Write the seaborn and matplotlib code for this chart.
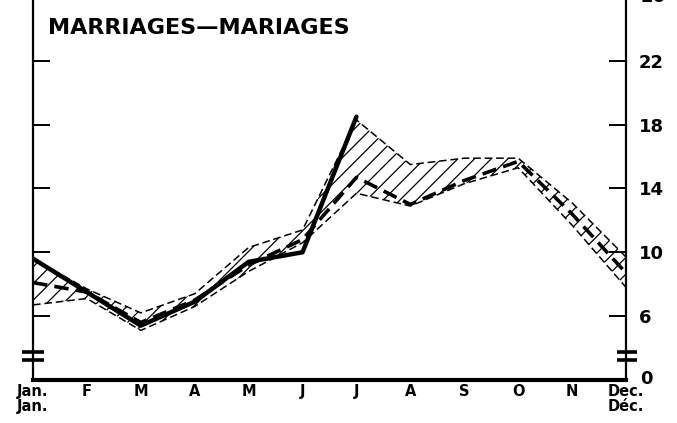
import matplotlib
matplotlib.use("Agg")
import matplotlib.pyplot as plt
import seaborn as sns
import numpy as np
from matplotlib.transforms import blended_transform_factory

# ---- data ----
months = ["Jan.\nJan.", "F", "M", "A", "M", "J", "J", "A", "S", "O", "N", "Dec.\nDéc."]
month_idx = list(range(12))

# current year (solid heavy line, Jan-Jul)
current = [9.6, 7.5, 5.4, 6.9, 9.4, 10.0, 18.5]
# average (heavy long-dashed line)
average = [8.1, 7.5, 5.6, 7.0, 9.2, 10.8, 14.7, 13.0, 14.5, 15.7, 12.4, 8.7]
# envelope (thin dashed lines, hatched between)
upper = [9.6, 7.7, 6.2, 7.4, 10.3, 11.4, 18.3, 15.5, 15.9, 15.9, 13.1, 9.7]
lower = [6.7, 7.1, 5.1, 6.6, 8.8, 10.6, 13.7, 12.9, 14.3, 15.3, 11.7, 7.8]

yticks = [6, 10, 14, 18, 22]
ytick_labels = ["6", "10", "14", "18", "22"]
title = "MARRIAGES—MARIAGES"

# ---- style ----
sns.set_style("white")
plt.rcParams["font.family"] = ["DejaVu Sans"]
plt.rcParams["hatch.linewidth"] = 0.9
plt.rcParams["text.color"] = "black"
plt.rcParams["xtick.color"] = "black"
plt.rcParams["ytick.color"] = "black"

fig = plt.figure(figsize=(6.77, 4.23), dpi=100)
ax = fig.add_axes([33 / 677, (423 - 380) / 423, (626 - 33) / 677, 380 / 423])
ax.set_facecolor("white")

# hatched envelope
ax.fill_between(month_idx, lower, upper, facecolor="none", edgecolor="black",
                hatch="//", linewidth=0)
sns.lineplot(x=month_idx, y=upper, ax=ax, color="black", linewidth=1.1,
             linestyle=(0, (5, 2.5)))
sns.lineplot(x=month_idx, y=lower, ax=ax, color="black", linewidth=1.1,
             linestyle=(0, (5, 2.5)))
# average long-dashed
sns.lineplot(x=month_idx, y=average, ax=ax, color="black", linewidth=2.6,
             linestyle=(0, (4, 2)))
# current solid
sns.lineplot(x=month_idx[:len(current)], y=current, ax=ax, color="black",
             linewidth=3.2)

ax.set_xlim(0, 11)
ax.set_ylim(1.99, 25.82)

# spines
for s in ["left", "right", "bottom"]:
    ax.spines[s].set_visible(True)
    ax.spines[s].set_color("black")
ax.spines["top"].set_visible(False)
ax.spines["left"].set_linewidth(1.6)
ax.spines["right"].set_linewidth(1.6)
ax.spines["bottom"].set_linewidth(3)

# x ticks
ax.set_xticks(month_idx)
ax.set_xticklabels(months, fontsize=10.5, fontweight="bold", linespacing=1.0,
                   color="black")
ax.tick_params(axis="x", direction="in", length=9.5, width=1.4, pad=3,
               colors="black")
ax.set_xlabel("")
ax.set_ylabel("")

# y ticks: inward on both sides, labels on right only
ax.set_yticks(yticks)
ax.set_yticklabels(ytick_labels, fontsize=13, fontweight="bold", color="black")
ax.tick_params(axis="y", which="both", direction="in", length=12, width=1.4,
               left=True, right=True, labelleft=False, labelright=True, pad=9,
               colors="black")

# "0" at the (broken) base and partially visible "26" at top
tr = blended_transform_factory(ax.transAxes, ax.transData)
ax.text(1.024, 2.05, "0", transform=tr, fontsize=13, fontweight="bold",
        ha="left", va="center", clip_on=False, color="black")
ax.text(1.024, 26.0, "26", transform=tr, fontsize=13, fontweight="bold",
        ha="left", va="center", clip_on=False, color="black")

# axis break marks
for x0, x1 in [(-0.018, 0.018), (0.985, 1.019)]:
    for yv in [3.25, 3.75]:
        ax.plot([x0, x1], [yv, yv], transform=tr, color="black", lw=2.6,
                clip_on=False, solid_capstyle="butt")

ax.text(0.026, 24.05, title, transform=tr, fontsize=16, fontweight="bold",
        ha="left", va="center", color="black")

if ax.get_legend() is not None:
    ax.get_legend().remove()

fig.savefig("out.png", dpi=100, facecolor="white")
